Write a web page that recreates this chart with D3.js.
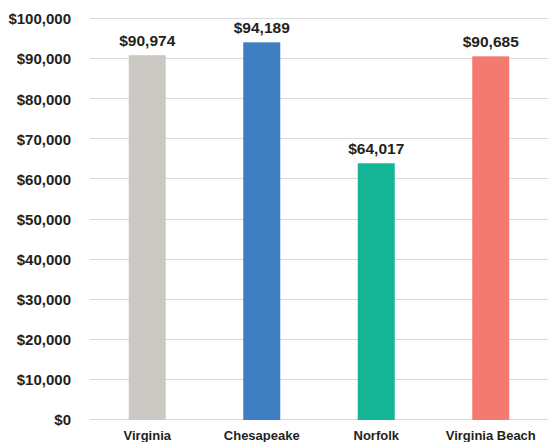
<!DOCTYPE html>
<html>
<head>
<meta charset="utf-8">
<script src="https://cdn.jsdelivr.net/npm/d3@7"></script>
<style>
  html, body { margin: 0; padding: 0; background: #fff; }
  svg { display: block; font-family: "Liberation Sans", Arial, sans-serif; }
</style>
</head>
<body>
<svg id="chart" width="548" height="442"></svg>
<script>
// Median household income by locality
const categories = ["Virginia", "Chesapeake", "Norfolk", "Virginia Beach"];
const incomes = [90974, 94189, 64017, 90685];
const barColors = ["#ccc8c4", "#3f7fc1", "#14b594", "#f47a70"];
const yTicks = [0, 10000, 20000, 30000, 40000, 50000, 60000, 70000, 80000, 90000, 100000];

const svg = d3.select("#chart");
const margin = { top: 19, right: 0, bottom: 22, left: 90 };
const width = 548, height = 442;

const x = d3.scaleBand()
  .domain(categories)
  .range([margin.left, width - margin.right])
  .paddingInner(0.677)
  .paddingOuter(0.3385);

const y = d3.scaleLinear()
  .domain([0, 100000])
  .range([420, 19]);

const money = d3.format("$,.0f");

// Gridlines
svg.append("g")
  .selectAll("line")
  .data(yTicks)
  .join("line")
  .attr("x1", margin.left)
  .attr("x2", width)
  .attr("y1", d => Math.round(y(d)) - 0.5)
  .attr("y2", d => Math.round(y(d)) - 0.5)
  .attr("stroke", "#d9d9d9")
  .attr("stroke-width", 1);

// Y axis labels
const yAxis = d3.axisLeft(y).tickValues(yTicks).tickFormat(money).tickSize(0).tickPadding(0);
const gy = svg.append("g")
  .attr("transform", `translate(71,0)`)
  .call(yAxis);
gy.select(".domain").remove();
gy.selectAll("text")
  .attr("font-family", "Liberation Sans, Arial, sans-serif")
  .attr("font-size", 15)
  .attr("font-weight", "bold")
  .attr("fill", "#231f20");

// Bars
svg.append("g")
  .selectAll("rect")
  .data(categories)
  .join("rect")
  .attr("x", d => x(d))
  .attr("width", x.bandwidth())
  .attr("y", (d, i) => y(incomes[i]))
  .attr("height", (d, i) => y(0) - y(incomes[i]))
  .attr("fill", (d, i) => barColors[i]);

// Value labels
svg.append("g")
  .selectAll("text")
  .data(categories)
  .join("text")
  .attr("x", d => x(d) + x.bandwidth() / 2)
  .attr("y", (d, i) => y(incomes[i]) - 9)
  .attr("text-anchor", "middle")
  .attr("font-size", 15.5)
  .attr("font-weight", "bold")
  .attr("fill", "#231f20")
  .text((d, i) => money(incomes[i]));

// Category axis
const xAxis = d3.axisBottom(x).tickSize(0).tickPadding(0);
const gx = svg.append("g")
  .attr("transform", `translate(0,440)`)
  .call(xAxis);
gx.select(".domain").remove();
gx.selectAll("text")
  .attr("dy", 0)
  .attr("y", 0)
  .attr("font-family", "Liberation Sans, Arial, sans-serif")
  .attr("font-size", 13)
  .attr("font-weight", "bold")
  .attr("fill", "#231f20");
</script>
</body>
</html>
